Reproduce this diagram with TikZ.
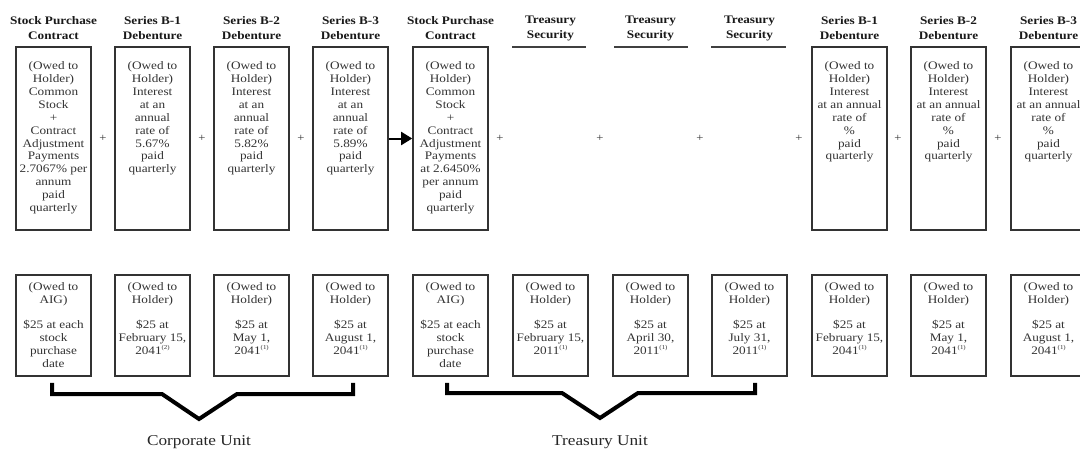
\documentclass[tikz,border=0pt]{standalone}
\usepackage{fontspec}
\setmainfont{Liberation Serif}
\newfontfamily\bodyf[FakeStretch=1.15]{Liberation Serif}
\usetikzlibrary{arrows.meta,calc}
\begin{document}
\begin{tikzpicture}[x=1pt,y=-1pt,
  box/.style={draw=black!80, line width=1.6pt, minimum width=75pt, inner sep=0pt},
  topbox/.style={box, minimum height=183pt},
  botbox/.style={box, minimum height=101pt},
  txt/.style={font=\bodyf\fontsize{11.5}{12.9}\selectfont, text=black!80, align=center, inner sep=0pt, anchor=north},
  hdr/.style={font=\bodyf\bfseries\fontsize{11.5}{15}\selectfont, text=black!90, align=center, inner sep=0pt},
  plus/.style={font=\bodyf\fontsize{11}{11}\selectfont, text=black!80, inner sep=0pt},
  unitlbl/.style={font=\bodyf\fontsize{15}{15}\selectfont, text=black!85, inner sep=0pt},
  uline/.style={draw=black!75, line width=1.8pt},
  bracket/.style={draw=black, line width=4pt, line join=miter}
]
\fill[white] (0,0) rectangle (1080,452);
\useasboundingbox (0,0) rectangle (1080,452);
\newcommand{\fnm}[1]{\raisebox{0.45em}{\fontsize{6}{6}\selectfont(#1)}}

% headers
\node[hdr] (h1) at (53.5,28.5) {Stock Purchase\\Contract};
\node[hdr] (h2) at (152.5,28.5) {Series B-1\\Debenture};
\node[hdr] (h3) at (251.5,28.5) {Series B-2\\Debenture};
\node[hdr] (h4) at (350.5,28.5) {Series B-3\\Debenture};
\node[hdr] (h5) at (450.5,28.5) {Stock Purchase\\Contract};
\node[hdr] (h6) at (550.5,28.5) {Treasury\\Security};
\node[hdr] (h7) at (650.5,28.5) {Treasury\\Security};
\node[hdr] (h8) at (749.5,28.5) {Treasury\\Security};
\node[hdr] (h9) at (849.5,28.5) {Series B-1\\Debenture};
\node[hdr] (h10) at (948.5,28.5) {Series B-2\\Debenture};
\node[hdr] (h11) at (1048.5,28.5) {Series B-3\\Debenture};

% underlines for treasury securities
\draw[uline] (512,47) -- (586,47);
\draw[uline] (614,47) -- (688,47);
\draw[uline] (711,47) -- (786,47);

% top boxes
\node[topbox] (t1) at (53.5,138.5) {};
\node[topbox] (t2) at (152.5,138.5) {};
\node[topbox] (t3) at (251.5,138.5) {};
\node[topbox] (t4) at (350.5,138.5) {};
\node[topbox] (t5) at (450.5,138.5) {};
\node[topbox] (t9) at (849.5,138.5) {};
\node[topbox] (t10) at (948.5,138.5) {};
\node[topbox] (t11) at (1048.5,138.5) {};

\node[txt] (tt1) at (53.5,61.5) {(Owed to\\Holder)\\Common\\Stock\\+\\Contract\\Adjustment\\Payments\\2.7067\% per\\annum\\paid\\quarterly};
\node[txt] (tt2) at (152.5,61.5) {(Owed to\\Holder)\\Interest\\at an\\annual\\rate of\\5.67\%\\paid\\quarterly};
\node[txt] (tt3) at (251.5,61.5) {(Owed to\\Holder)\\Interest\\at an\\annual\\rate of\\5.82\%\\paid\\quarterly};
\node[txt] (tt4) at (350.5,61.5) {(Owed to\\Holder)\\Interest\\at an\\annual\\rate of\\5.89\%\\paid\\quarterly};
\node[txt] (tt5) at (450.5,61.5) {(Owed to\\Holder)\\Common\\Stock\\+\\Contract\\Adjustment\\Payments\\at 2.6450\%\\per annum\\paid\\quarterly};
\node[txt] (tt9) at (849.5,61.5) {(Owed to\\Holder)\\Interest\\at an annual\\rate of\\\%\\paid\\quarterly};
\node[txt] (tt10) at (948.5,61.5) {(Owed to\\Holder)\\Interest\\at an annual\\rate of\\\%\\paid\\quarterly};
\node[txt] (tt11) at (1048.5,61.5) {(Owed to\\Holder)\\Interest\\at an annual\\rate of\\\%\\paid\\quarterly};

% plus signs
\foreach \i/\x in {1/103,2/202,3/301,4/500,5/600,6/700,7/799,8/898,9/998}
  \node[plus] (p\i) at (\x,138) {+};

% arrow
\draw[line width=2pt, black, -{Triangle[length=11pt,width=13pt]}] (t4.east) -- (t5.west);

% bottom boxes
\node[botbox] (b1) at (53.5,325.5) {};
\node[botbox] (b2) at (152.5,325.5) {};
\node[botbox] (b3) at (251.5,325.5) {};
\node[botbox] (b4) at (350.5,325.5) {};
\node[botbox] (b5) at (450.5,325.5) {};
\node[botbox] (b6) at (550.5,325.5) {};
\node[botbox] (b7) at (650.5,325.5) {};
\node[botbox] (b8) at (749.5,325.5) {};
\node[botbox] (b9) at (849.5,325.5) {};
\node[botbox] (b10) at (948.5,325.5) {};
\node[botbox] (b11) at (1048.5,325.5) {};

\node[txt] (bt1) at (53.5,282.5) {(Owed to\\AIG)\\[12pt]\$25 at each\\stock\\purchase\\date};
\node[txt] (bt2) at (152.5,282.5) {(Owed to\\Holder)\\[12pt]\$25 at\\February 15,\\2041\fnm{2}};
\node[txt] (bt3) at (251.5,282.5) {(Owed to\\Holder)\\[12pt]\$25 at\\May 1,\\2041\fnm{1}};
\node[txt] (bt4) at (350.5,282.5) {(Owed to\\Holder)\\[12pt]\$25 at\\August 1,\\2041\fnm{1}};
\node[txt] (bt5) at (450.5,282.5) {(Owed to\\AIG)\\[12pt]\$25 at each\\stock\\purchase\\date};
\node[txt] (bt6) at (550.5,282.5) {(Owed to\\Holder)\\[12pt]\$25 at\\February 15,\\2011\fnm{1}};
\node[txt] (bt7) at (650.5,282.5) {(Owed to\\Holder)\\[12pt]\$25 at\\April 30,\\2011\fnm{1}};
\node[txt] (bt8) at (749.5,282.5) {(Owed to\\Holder)\\[12pt]\$25 at\\July 31,\\2011\fnm{1}};
\node[txt] (bt9) at (849.5,282.5) {(Owed to\\Holder)\\[12pt]\$25 at\\February 15,\\2041\fnm{1}};
\node[txt] (bt10) at (948.5,282.5) {(Owed to\\Holder)\\[12pt]\$25 at\\May 1,\\2041\fnm{1}};
\node[txt] (bt11) at (1048.5,282.5) {(Owed to\\Holder)\\[12pt]\$25 at\\August 1,\\2041\fnm{1}};

% brackets
\draw[bracket] ($(b1.south)+(-1.5,6)$) |- (162,394) -- (199,419) -- (237,394) -| ($(b4.south)+(2.5,6)$);
\node[unitlbl] (cu) at (199,442) {Corporate Unit};
\draw[bracket] ($(b5.south)+(-3.5,6)$) |- (562,393) -- (600,418) -- (638,393) -| ($(b8.south)+(5.5,6)$);
\node[unitlbl] (tu) at (600,442) {Treasury Unit};
\end{tikzpicture}
\end{document}
